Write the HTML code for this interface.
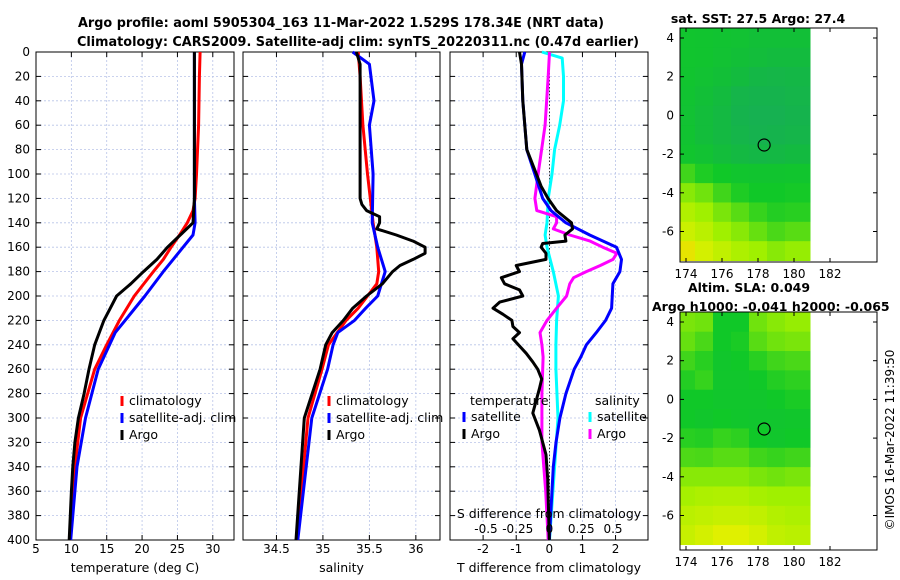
<!DOCTYPE html>
<html><head><meta charset="utf-8"><style>
html,body{margin:0;padding:0;background:#fff}
svg{display:block}
text{font-family:"DejaVu Sans","Liberation Sans",sans-serif;fill:#000}
</style></head><body>
<svg id="fig" width="900" height="580" viewBox="0 0 900 580" xmlns="http://www.w3.org/2000/svg">
<text x="341" y="27" font-size="13" font-weight="bold" text-anchor="middle" textLength="526" lengthAdjust="spacingAndGlyphs">Argo profile: aoml 5905304_163 11-Mar-2022 1.529S 178.34E (NRT data)</text>
<text x="358" y="46" font-size="13" font-weight="bold" text-anchor="middle" textLength="562" lengthAdjust="spacingAndGlyphs">Climatology: CARS2009. Satellite-adj clim: synTS_20220311.nc (0.47d earlier)</text>
<g id="plots"></g>
<text x="758" y="23" font-size="12.5" font-weight="bold" text-anchor="middle">sat. SST: 27.5 Argo: 27.4</text>
<text x="749" y="292" font-size="12.5" font-weight="bold" text-anchor="middle">Altim. SLA: 0.049</text>
<text x="652" y="311" font-size="12.5" font-weight="bold">Argo h1000: -0.041 h2000: -0.065</text>
<text transform="translate(894,440) rotate(-90)" font-size="12" text-anchor="middle">©IMOS 16-Mar-2022 11:39:50</text>
</svg>
<script>
// ---------- profile data ----------
const depthTicks=[0,20,40,60,80,100,120,140,160,180,200,220,240,260,280,300,320,340,360,380,400];
const tTicks=[5,10,15,20,25,30];
const sTicks=[34.5,35,35.5,36];
const dTTicks=[-2,-1,0,1,2];
const dSTickVals=[-0.5,-0.25,0,0.25,0.5];
const dSTickLabels=["-0.5","-0.25","0","0.25","0.5"];

const climTDepth=[0,20,60,100,120,130,140,150,160,170,180,200,220,240,260,300,340,400];
const climT=[28.2,28.1,28.0,27.7,27.5,27.2,26.4,25.3,24.1,23.0,21.6,18.9,16.8,15.0,13.3,11.3,10.5,9.8];
const satTDepth=[0,20,60,100,120,140,150,160,170,180,200,220,230,260,300,340,400];
const satT=[27.4,27.4,27.4,27.4,27.4,27.5,27.2,25.8,24.4,23.0,20.4,17.6,16.2,13.8,12.0,10.8,9.9];
const argoTDepth=[0,60,120,130,140,150,160,170,180,190,200,210,220,240,260,280,300,320,340,360,400];
const argoT=[27.4,27.4,27.4,27.3,27.2,25.4,23.6,22.1,20.2,18.4,16.4,15.5,14.6,13.3,12.5,11.8,11.0,10.5,10.2,10.0,9.7];

const climSDepth=[0,20,60,100,140,160,180,190,200,210,220,240,260,300,400];
const climS=[35.38,35.40,35.43,35.48,35.54,35.58,35.60,35.58,35.48,35.38,35.25,35.06,34.99,34.84,34.72];
const satSDepth=[0,10,40,60,100,140,160,180,200,210,220,230,240,260,300,400];
const satS=[35.32,35.50,35.55,35.50,35.54,35.53,35.59,35.67,35.59,35.46,35.34,35.16,35.11,35.05,34.88,34.73];
const argoSDepth=[0,10,120,125,130,135,140,145,150,155,160,165,170,175,180,190,200,210,220,230,240,260,300,400];
const argoS=[35.36,35.40,35.40,35.42,35.47,35.61,35.61,35.58,35.79,35.97,36.10,36.10,35.97,35.83,35.75,35.64,35.47,35.32,35.22,35.10,35.03,34.97,34.80,34.71];

const satDTDepth=[0,10,40,80,100,120,130,140,150,160,170,180,190,210,220,230,240,250,260,280,300,320,340,400];
const satDT=[-0.74,-0.84,-0.8,-0.68,-0.44,-0.2,0.05,0.5,1.22,2.03,2.18,2.13,1.92,1.88,1.7,1.42,1.12,0.95,0.75,0.5,0.32,0.2,0.12,0.0];
const argoDTDepth=[0,10,40,80,100,110,120,130,140,145,150,155,157,160,165,170,175,180,185,190,195,200,205,210,215,220,225,230,235,241,247,254,260,268,276,296,310,330,350,400];
const argoDT=[-0.9,-0.84,-0.8,-0.68,-0.39,-0.25,-0.04,0.22,0.67,0.7,0.47,0.5,-0.2,-0.25,-0.1,-0.1,-1.0,-0.9,-1.45,-1.35,-0.9,-0.8,-1.5,-1.7,-1.4,-1.13,-1.1,-0.9,-1.1,-0.9,-0.7,-0.5,-0.35,-0.23,-0.3,-0.5,-0.3,-0.1,-0.05,0.0];
const satDSDepth=[0,5,20,40,60,80,100,120,140,150,160,180,200,220,240,260,300,400];
const satDS=[-0.06,0.10,0.11,0.11,0.08,0.04,0.02,-0.01,-0.02,-0.035,-0.02,0.03,0.07,0.056,0.05,0.05,0.067,0.0];
const argoDSDepth=[0,20,60,100,120,130,135,140,145,150,155,160,165,170,175,180,185,190,200,210,220,230,240,250,280,320,360,400];
const argoDS=[0.0,-0.01,-0.035,-0.09,-0.115,-0.1,0.056,0.056,0.03,0.16,0.32,0.42,0.53,0.5,0.4,0.29,0.19,0.16,0.135,0.056,-0.02,-0.075,-0.06,-0.05,-0.06,-0.06,-0.03,-0.01];

// ---------- map data (rows lat 4..-7, cols lon 173..180) ----------
const mapLats=[4,3,2,1,0,-1,-2,-3,-4,-5,-6,-7];
const mapLons=[173,174,175,176,177,178,179,180,181];
const sstVals=[
[0.28,0.27,0.26,0.25,0.24,0.22,0.22,0.22,0.22],
[0.28,0.27,0.26,0.24,0.22,0.2,0.18,0.18,0.18],
[0.27,0.26,0.24,0.22,0.18,0.14,0.13,0.14,0.14],
[0.27,0.25,0.22,0.18,0.12,0.1,0.1,0.12,0.12],
[0.27,0.24,0.2,0.16,0.1,0.08,0.08,0.1,0.1],
[0.28,0.25,0.2,0.16,0.12,0.09,0.1,0.12,0.12],
[0.3,0.27,0.24,0.2,0.16,0.14,0.15,0.17,0.17],
[0.45,0.4,0.33,0.3,0.27,0.26,0.26,0.27,0.27],
[0.58,0.55,0.5,0.4,0.33,0.3,0.3,0.31,0.31],
[0.68,0.65,0.6,0.52,0.45,0.38,0.34,0.35,0.35],
[0.76,0.73,0.68,0.6,0.55,0.48,0.42,0.45,0.45],
[0.9,0.85,0.76,0.7,0.64,0.6,0.55,0.58,0.58]];
const slaVals=[
[0.55,0.52,0.5,0.3,0.3,0.5,0.55,0.58,0.58],
[0.5,0.48,0.42,0.3,0.32,0.45,0.5,0.52,0.52],
[0.42,0.4,0.35,0.28,0.3,0.35,0.4,0.42,0.42],
[0.36,0.34,0.38,0.28,0.28,0.3,0.34,0.36,0.36],
[0.32,0.3,0.3,0.28,0.28,0.28,0.3,0.32,0.32],
[0.32,0.3,0.28,0.3,0.28,0.27,0.27,0.28,0.28],
[0.38,0.35,0.34,0.38,0.36,0.3,0.28,0.3,0.3],
[0.45,0.43,0.42,0.45,0.45,0.4,0.38,0.4,0.4],
[0.55,0.55,0.55,0.55,0.55,0.52,0.5,0.52,0.52],
[0.62,0.62,0.64,0.65,0.65,0.62,0.6,0.6,0.6],
[0.66,0.68,0.7,0.72,0.72,0.7,0.66,0.64,0.64],
[0.7,0.72,0.76,0.8,0.8,0.76,0.7,0.68,0.68]];
const lonTicks=[174,176,178,180,182];
const latTicks=[4,2,0,-2,-4,-6];
const argoPos=[178.34,-1.53];

// ---------- drawing ----------
const NS='http://www.w3.org/2000/svg';
const G=document.getElementById('plots');
function mk(tag,attrs,parent){const e=document.createElementNS(NS,tag);for(const k in attrs)e.setAttribute(k,attrs[k]);(parent||G).appendChild(e);return e;}
const yTop=52,yBot=540;
function yD(d){return yTop+(d/400)*(yBot-yTop);}

function panel(name,x0,x1,xmin,xmax,ticks,labels,xlabel,showY){
  const sx=v=>x0+(v-xmin)/(xmax-xmin)*(x1-x0);
  const g=mk('g',{});
  
  
  ticks.forEach((t,i)=>{
    const X=sx(t);
    const gl=mk('line',{x1:X,x2:X,y1:yTop,y2:yBot,stroke:'#b8c4e8','stroke-width':0.8,'stroke-dasharray':'2,2'},g);
    
    
    mk('line',{x1:X,x2:X,y1:yBot,y2:yBot-5,stroke:'#000'},g);
    mk('line',{x1:X,x2:X,y1:yTop,y2:yTop+5,stroke:'#000'},g);
    const tl=mk('text',{x:X,y:553,'font-size':12,'text-anchor':'middle'},g);tl.textContent=labels[i];
    
    
  });
  depthTicks.forEach(d=>{
    const Y=yD(d);
    if(d>0&&d<400){mk('line',{x1:x0,x2:x1,y1:Y,y2:Y,stroke:'#b8c4e8','stroke-width':0.8,'stroke-dasharray':'2,2'},g);}
    mk('line',{x1:x0,x2:x0+5,y1:Y,y2:Y,stroke:'#000'},g);
    mk('line',{x1:x1-5,x2:x1,y1:Y,y2:Y,stroke:'#000'},g);
    if(showY){const t=mk('text',{x:30,y:Y+4,'font-size':12,'text-anchor':'end'},g);t.textContent=d;
      
      }
  });
  const fr=mk('rect',{x:x0,y:yTop,width:x1-x0,height:yBot-yTop,fill:'none',stroke:'#000','stroke-width':1},g);
  
  
  const xl=mk('text',{x:(x0+x1)/2,y:572,'font-size':12.5,'text-anchor':'middle'},g);xl.textContent=xlabel;
  
  
  return {g,sx};
}
function line(p,sx,depths,vals,color,name){
  let s='';depths.forEach((d,i)=>{s+=(i?'L':'M')+sx(vals[i]).toFixed(1)+','+yD(d).toFixed(1);});
  const e=mk('path',{d:s,fill:'none',stroke:color,'stroke-width':3,'stroke-linejoin':'round'},p);
  
  
}
function legendEntry(p,x,y,color,label,name){
  const g=mk('g',{},p);
  
  
  mk('line',{x1:x,x2:x,y1:y-9,y2:y+1,stroke:color,'stroke-width':3},g);
  const t=mk('text',{x:x+7,y:y,'font-size':12.5},g);t.textContent=label;
}

// panel 1 temperature
const P1=panel('temperature-panel',36,234,5,33,tTicks,tTicks.map(String),'temperature (deg C)',true);
line(P1.g,P1.sx,climTDepth,climT,'#ff0000','climatology-temperature-line');
line(P1.g,P1.sx,satTDepth,satT,'#0000ff','satellite-temperature-line');
line(P1.g,P1.sx,argoTDepth,argoT,'#000000','argo-temperature-line');
legendEntry(P1.g,122,405,'#ff0000','climatology','legend-climatology');
legendEntry(P1.g,122,422,'#0000ff','satellite-adj. clim','legend-satellite');
legendEntry(P1.g,122,439,'#000000','Argo','legend-argo');

// panel 2 salinity
const P2=panel('salinity-panel',243,440,34.14,36.26,sTicks,sTicks.map(String),'salinity',false);
line(P2.g,P2.sx,climSDepth,climS,'#ff0000','climatology-salinity-line');
line(P2.g,P2.sx,satSDepth,satS,'#0000ff','satellite-salinity-line');
line(P2.g,P2.sx,argoSDepth,argoS,'#000000','argo-salinity-line');
legendEntry(P2.g,329,405,'#ff0000','climatology','legend-climatology');
legendEntry(P2.g,329,422,'#0000ff','satellite-adj. clim','legend-satellite');
legendEntry(P2.g,329,439,'#000000','Argo','legend-argo');

// panel 3 differences
const P3=panel('difference-panel',450,648,-3.0,2.98,dTTicks,dTTicks.map(String),'T difference from climatology',false);
const sxS=v=>549.5+v*127;
const zl=mk('line',{x1:549.5,x2:549.5,y1:yTop,y2:yBot,stroke:'#333','stroke-width':1,'stroke-dasharray':'1.5,2'},P3.g);


line(P3.g,sxS,satDSDepth,satDS,'#00ffff','satellite-salinity-diff-line');
line(P3.g,sxS,argoDSDepth,argoDS,'#ff00ff','argo-salinity-diff-line');
line(P3.g,P3.sx,satDTDepth,satDT,'#0000ff','satellite-temperature-diff-line');
line(P3.g,P3.sx,argoDTDepth,argoDT,'#000000','argo-temperature-diff-line');
{const t=mk('text',{x:470,y:405,'font-size':12.5},P3.g);t.textContent='temperature';
 
 
 const u=mk('text',{x:595,y:405,'font-size':12.5},P3.g);u.textContent='salinity';
 
 }
legendEntry(P3.g,464,421,'#0000ff','satellite','legend-t-satellite');
legendEntry(P3.g,464,438,'#000000','Argo','legend-t-argo');
legendEntry(P3.g,590,421,'#00ffff','satellite','legend-s-satellite');
legendEntry(P3.g,590,438,'#ff00ff','Argo','legend-s-argo');
{const t=mk('text',{x:549,y:518,'font-size':12.5,'text-anchor':'middle'},P3.g);t.textContent='S difference from climatology';
 
 
 dSTickVals.forEach((v,i)=>{const e=mk('text',{x:sxS(v),y:533,'font-size':12,'text-anchor':'middle'},P3.g);e.textContent=dSTickLabels[i];
  
  });}

// maps
function cmap(v){
  const stops=[[0,[24,168,96]],[0.3,[16,200,40]],[0.6,[160,240,0]],[0.8,[224,240,0]],[1,[248,192,0]]];
  for(let i=1;i<stops.length;i++){if(v<=stops[i][0]){const a=stops[i-1],b=stops[i],f=(v-a[0])/(b[0]-a[0]);
    return 'rgb('+a[1].map((c,k)=>Math.round(c+(b[1][k]-c)*f)).join(',')+')';}}
  return 'rgb(248,192,0)';
}
function mapPanel(name,top,bottom,vals){
  const x0=680,x1=877,dataEdge=810;
  const lonX=l=>794+(l-180)*18;
  const yL=l=>top+10+(4-l)*19.35;
  const g=mk('g',{});
  
  
  mapLats.forEach((la,r)=>{mapLons.forEach((lo,c)=>{
    const xa=Math.max(x0,lonX(lo-0.5)),xb=Math.min(dataEdge,lonX(lo+0.5));
    const ya=Math.max(top,yL(la+0.5)),yb=Math.min(bottom,yL(la-0.5));
    if(xb>xa&&yb>ya){const cell=mk('rect',{x:xa,y:ya,width:xb-xa+0.5,height:yb-ya+0.5,fill:cmap(vals[r][c])},g);
      
      }
  });});
  lonTicks.forEach(l=>{const X=lonX(l);
    mk('line',{x1:X,x2:X,y1:bottom,y2:bottom-4,stroke:'#000'},g);
    mk('line',{x1:X,x2:X,y1:top,y2:top+4,stroke:'#000'},g);
    const t=mk('text',{x:X,y:bottom+16,'font-size':12,'text-anchor':'middle'},g);t.textContent=l;
    
    });
  latTicks.forEach(l=>{const Y=yL(l);
    mk('line',{x1:x0,x2:x0+4,y1:Y,y2:Y,stroke:'#000'},g);
    mk('line',{x1:x1-4,x2:x1,y1:Y,y2:Y,stroke:'#000'},g);
    const t=mk('text',{x:674,y:Y+4,'font-size':12,'text-anchor':'end'},g);t.textContent=l;
    
    });
  const c=mk('circle',{cx:lonX(argoPos[0]),cy:yL(argoPos[1]),r:6,fill:'none',stroke:'#000','stroke-width':1.2},g);
  
  
  const f=mk('rect',{x:x0,y:top,width:x1-x0,height:bottom-top,fill:'none',stroke:'#000'},g);
  
  
}
mapPanel('sst-map',28,262,sstVals);
mapPanel('sla-map',312,550,slaVals);
</script>
</body></html>
